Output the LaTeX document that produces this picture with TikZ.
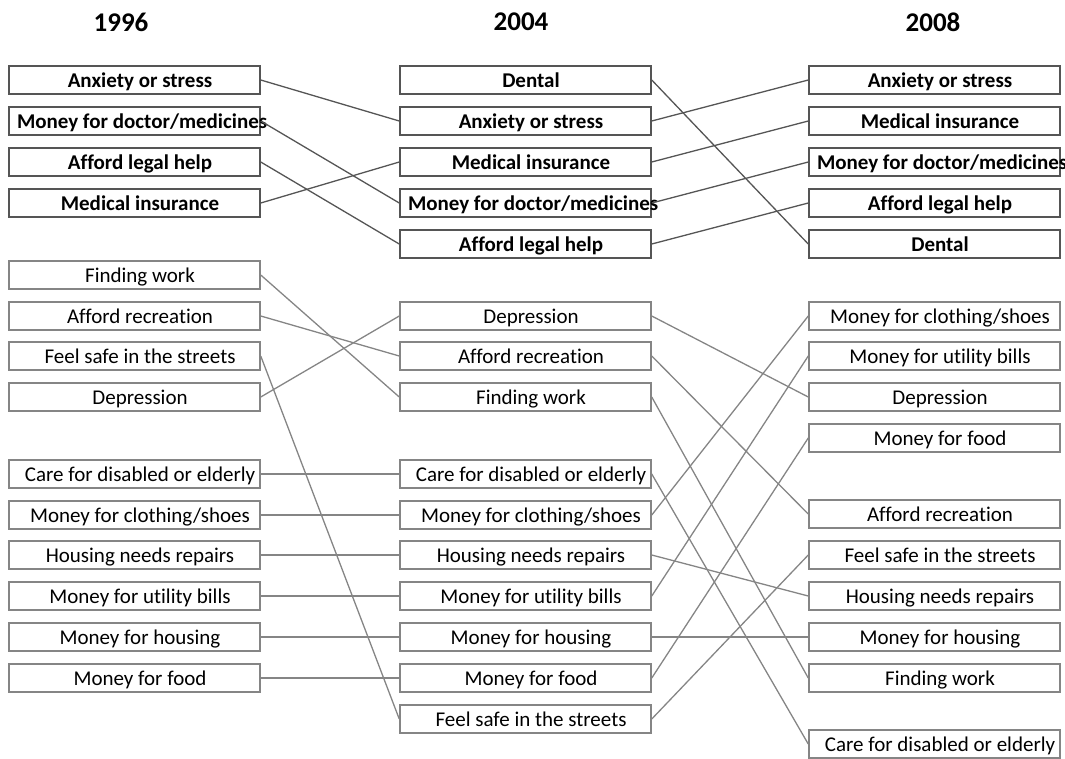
\documentclass[tikz,border=0pt]{standalone}
\usepackage{fontspec}
\setmainfont{Carlito}[Ligatures={NoCommon}]
\definecolor{darkc}{HTML}{555555}
\definecolor{lightc}{HTML}{858585}
\newcommand{\ovf}[1]{\makebox[0pt][l]{\hspace{-123pt}#1}}
\begin{document}
\begin{tikzpicture}[x=1pt,y=-1pt,
  basebox/.style={line width=1.5pt, minimum width=251pt, minimum height=28pt, inner sep=0pt, text=black, text height=15pt, text depth=1pt, execute at begin node=\hspace*{11pt}},
  topbox/.style={basebox, draw=darkc, font=\fontsize{21}{24}\selectfont\bfseries},
  lowbox/.style={basebox, draw=lightc, font=\fontsize{21}{24}\selectfont},
  head/.style={font=\fontsize{27}{32}\selectfont\bfseries, inner sep=0pt},
  topline/.style={draw=darkc, line width=1.3pt},
  lowline/.style={draw=lightc, line width=1.3pt}]
\useasboundingbox (0,0) rectangle (1065,758);
% headers
\node[head] (h1) at (121,22) {1996};
\node[head] (h2) at (521,22) {2004};
\node[head] (h3) at (933,22) {2008};
% top group
\node[topbox] (LAnx) at (134.5,80) {Anxiety or stress};
\node[topbox] (LMon) at (134.5,121) {\ovf{Money for doctor/medicines}};
\node[topbox] (LLeg) at (134.5,162) {Afford legal help};
\node[topbox] (LMed) at (134.5,203) {Medical insurance};
\node[topbox] (MDen) at (525.5,80) {Dental};
\node[topbox] (MAnx) at (525.5,121) {Anxiety or stress};
\node[topbox] (MMed) at (525.5,162) {Medical insurance};
\node[topbox] (MMon) at (525.5,203) {\ovf{Money for doctor/medicines}};
\node[topbox] (MLeg) at (525.5,244) {Afford legal help};
\node[topbox] (RAnx) at (934.5,80) {Anxiety or stress};
\node[topbox] (RMed) at (934.5,121) {Medical insurance};
\node[topbox] (RMon) at (934.5,162) {\ovf{Money for doctor/medicines}};
\node[topbox] (RLeg) at (934.5,203) {Afford legal help};
\node[topbox] (RDen) at (934.5,244) {Dental};
% lower left
\node[lowbox] (LFin) at (134.5,275) {Finding work};
\node[lowbox] (LRec) at (134.5,316) {Afford recreation};
\node[lowbox] (LSafe) at (134.5,356) {Feel safe in the streets};
\node[lowbox] (LDep) at (134.5,397) {Depression};
\node[lowbox] (LCare) at (134.5,474) {Care for disabled or elderly};
\node[lowbox] (LClo) at (134.5,515) {Money for clothing/shoes};
\node[lowbox] (LRep) at (134.5,555) {Housing needs repairs};
\node[lowbox] (LUti) at (134.5,596) {Money for utility bills};
\node[lowbox] (LHou) at (134.5,637) {Money for housing};
\node[lowbox] (LFood) at (134.5,678) {Money for food};
% lower middle
\node[lowbox] (MDep) at (525.5,316) {Depression};
\node[lowbox] (MRec) at (525.5,356) {Afford recreation};
\node[lowbox] (MFin) at (525.5,397) {Finding work};
\node[lowbox] (MCare) at (525.5,474) {Care for disabled or elderly};
\node[lowbox] (MClo) at (525.5,515) {Money for clothing/shoes};
\node[lowbox] (MRep) at (525.5,555) {Housing needs repairs};
\node[lowbox] (MUti) at (525.5,596) {Money for utility bills};
\node[lowbox] (MHou) at (525.5,637) {Money for housing};
\node[lowbox] (MFood) at (525.5,678) {Money for food};
\node[lowbox] (MSafe) at (525.5,719) {Feel safe in the streets};
% lower right
\node[lowbox] (RClo) at (934.5,316) {Money for clothing/shoes};
\node[lowbox] (RUti) at (934.5,356) {Money for utility bills};
\node[lowbox] (RDep) at (934.5,397) {Depression};
\node[lowbox] (RFood) at (934.5,438) {Money for food};
\node[lowbox] (RRec) at (934.5,514) {Afford recreation};
\node[lowbox] (RSafe) at (934.5,555) {Feel safe in the streets};
\node[lowbox] (RRep) at (934.5,596) {Housing needs repairs};
\node[lowbox] (RHou) at (934.5,637) {Money for housing};
\node[lowbox] (RFin) at (934.5,678) {Finding work};
\node[lowbox] (RCare) at (934.5,744) {Care for disabled or elderly};
% top connectors
\draw[topline] (LAnx.east) -- (MAnx.west);
\draw[topline] (LMon.east) -- (MMon.west);
\draw[topline] (LLeg.east) -- (MLeg.west);
\draw[topline] (LMed.east) -- (MMed.west);
\draw[topline] (MDen.east) -- (RDen.west);
\draw[topline] (MAnx.east) -- (RAnx.west);
\draw[topline] (MMed.east) -- (RMed.west);
\draw[topline] (MMon.east) -- (RMon.west);
\draw[topline] (MLeg.east) -- (RLeg.west);
% lower connectors left-middle
\draw[lowline] (LFin.east) -- (MFin.west);
\draw[lowline] (LRec.east) -- (MRec.west);
\draw[lowline] (LSafe.east) -- (MSafe.west);
\draw[lowline] (LDep.east) -- (MDep.west);
\draw[lowline] (LCare.east) -- (MCare.west);
\draw[lowline] (LClo.east) -- (MClo.west);
\draw[lowline] (LRep.east) -- (MRep.west);
\draw[lowline] (LUti.east) -- (MUti.west);
\draw[lowline] (LHou.east) -- (MHou.west);
\draw[lowline] (LFood.east) -- (MFood.west);
% lower connectors middle-right
\draw[lowline] (MDep.east) -- (RDep.west);
\draw[lowline] (MRec.east) -- (RRec.west);
\draw[lowline] (MFin.east) -- (RFin.west);
\draw[lowline] (MCare.east) -- (RCare.west);
\draw[lowline] (MClo.east) -- (RClo.west);
\draw[lowline] (MRep.east) -- (RRep.west);
\draw[lowline] (MUti.east) -- (RUti.west);
\draw[lowline] (MHou.east) -- (RHou.west);
\draw[lowline] (MFood.east) -- (RFood.west);
\draw[lowline] (MSafe.east) -- (RSafe.west);
\end{tikzpicture}
\end{document}
